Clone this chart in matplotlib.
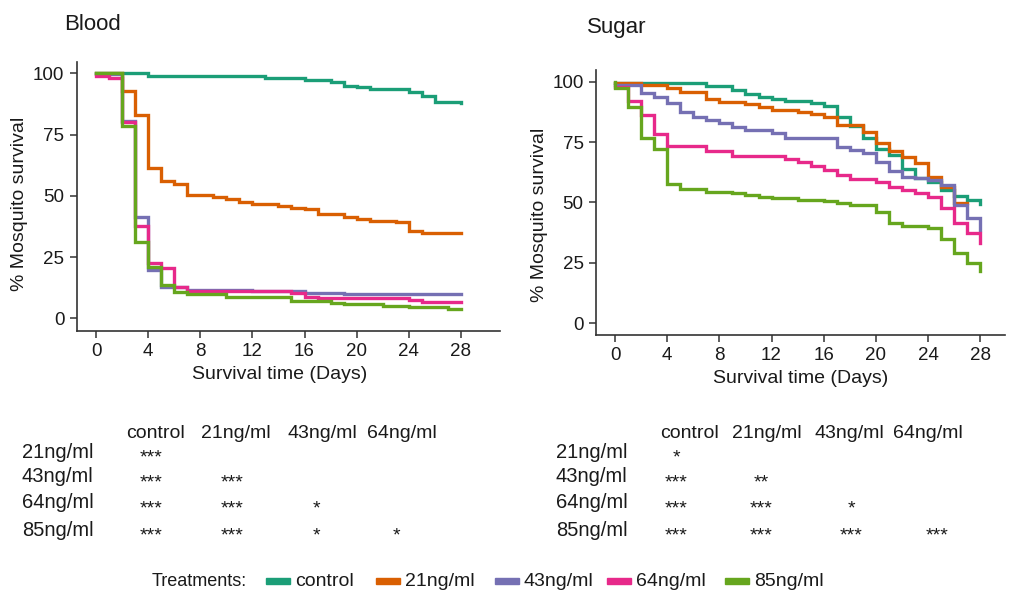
import matplotlib
matplotlib.use('Agg')
import matplotlib.pyplot as plt
from matplotlib.patches import Rectangle

plt.rcParams['font.family'] = ['Liberation Sans', 'DejaVu Sans']

W, H = 1012, 592

treatments = ['control', '21ng/ml', '43ng/ml', '64ng/ml', '85ng/ml']
colors = ['#1B9E77', '#D95F02', '#7570B3', '#E7298A', '#66A61E']

# blood fed survival (days, % survival)
blood_control_days = [0, 4, 13, 16, 18, 19, 20, 21, 24, 25, 26, 28]
blood_control_surv = [100, 98.9, 98.2, 97.3, 96.3, 95.0, 94.5, 93.6, 92.5, 90.7, 88.2, 87.8]
blood_21_days = [0, 2, 3, 4, 5, 6, 7, 9, 10, 11, 12, 14, 15, 16, 17, 19, 20, 21, 23, 24, 25, 28]
blood_21_surv = [100, 92.9, 83.0, 61.2, 56.2, 54.7, 50.3, 49.6, 48.6, 47.6, 46.7, 46.0, 45.1, 44.5,
                 42.4, 41.5, 40.7, 39.8, 39.2, 35.8, 34.9, 34.9]
blood_43_days = [0, 2, 3, 4, 5, 7, 12, 16, 19, 28]
blood_43_surv = [99.5, 80.5, 41.5, 19.7, 12.9, 11.6, 11.0, 10.5, 9.8, 9.8]
blood_64_days = [0, 1, 2, 3, 4, 5, 6, 7, 15, 16, 17, 24, 25, 28]
blood_64_surv = [98.9, 98.0, 80.0, 37.8, 22.6, 20.4, 12.9, 11.0, 10.2, 8.8, 8.2, 7.5, 6.5, 6.5]
blood_85_days = [0, 2, 3, 4, 5, 6, 7, 10, 15, 18, 19, 22, 24, 27, 28]
blood_85_surv = [100, 78.6, 31.3, 21.1, 13.6, 10.9, 9.9, 8.8, 7.2, 6.4, 5.7, 5.0, 4.5, 3.7, 3.7]

# sugar fed survival
sugar_control_days = [0, 7, 9, 10, 11, 12, 13, 15, 16, 17, 18, 19, 20, 21, 22, 23, 24, 25, 26, 27, 28]
sugar_control_surv = [99.3, 98.2, 96.5, 94.9, 93.8, 92.8, 92.1, 91.0, 89.9, 85.2, 81.5, 76.5, 72.2,
                      69.6, 63.7, 60.0, 58.6, 55.2, 52.7, 51.0, 49.5]
sugar_21_days = [0, 2, 4, 5, 7, 8, 10, 11, 12, 14, 15, 16, 17, 19, 20, 21, 22, 23, 24, 25, 26, 27]
sugar_21_surv = [99.6, 98.6, 97.2, 95.8, 92.7, 91.7, 90.6, 89.6, 88.2, 87.5, 86.5, 85.5, 82.0, 79.3,
                 74.5, 71.4, 68.9, 66.2, 60.7, 56.5, 49.6, 49.6]
sugar_43_days = [0, 2, 3, 4, 5, 6, 7, 8, 9, 10, 12, 13, 17, 18, 19, 20, 21, 22, 23, 24, 25, 26, 27, 28]
sugar_43_surv = [98.6, 95.2, 93.8, 91.0, 87.6, 85.2, 84.1, 82.7, 81.1, 80.0, 78.6, 76.8, 73.1, 71.7,
                 70.3, 66.9, 63.1, 60.7, 60.0, 59.3, 57.2, 48.9, 43.7, 38.6]
sugar_64_days = [0, 1, 2, 3, 4, 7, 9, 13, 14, 15, 16, 17, 18, 20, 21, 22, 23, 24, 25, 26, 27, 28]
sugar_64_surv = [97.9, 92.1, 86.2, 78.3, 73.5, 71.4, 69.3, 67.9, 66.6, 65.0, 63.3, 61.5, 59.7, 58.6,
                 56.3, 55.0, 53.8, 52.4, 47.6, 41.4, 37.2, 33.1]
sugar_85_days = [0, 0, 1, 2, 3, 4, 5, 7, 9, 10, 11, 12, 14, 16, 17, 18, 20, 21, 22, 24, 25, 26, 27, 28]
sugar_85_surv = [100, 97.2, 89.4, 76.8, 72.1, 57.5, 55.4, 54.5, 53.8, 53.0, 52.1, 51.7, 51.0, 50.5,
                 49.9, 48.9, 46.2, 41.6, 40.4, 39.3, 34.8, 29.0, 25.1, 21.8]

blood_series = [(blood_control_days, blood_control_surv), (blood_21_days, blood_21_surv),
                (blood_43_days, blood_43_surv), (blood_64_days, blood_64_surv),
                (blood_85_days, blood_85_surv)]
sugar_series = [(sugar_control_days, sugar_control_surv), (sugar_21_days, sugar_21_surv),
                (sugar_43_days, sugar_43_surv), (sugar_64_days, sugar_64_surv),
                (sugar_85_days, sugar_85_surv)]

# pairwise comparisons (rows vs columns)
table_cols = ['control', '21ng/ml', '43ng/ml', '64ng/ml']
table_rows = ['21ng/ml', '43ng/ml', '64ng/ml', '85ng/ml']
blood_sig = [['***'], ['***', '***'], ['***', '***', '*'], ['***', '***', '*', '*']]
sugar_sig = [['*'], ['***', '**'], ['***', '***', '*'], ['***', '***', '***', '***']]

xticks = [0, 4, 8, 12, 16, 20, 24, 28]
yticks = [0, 25, 50, 75, 100]

TXT = '#1a1a1a'
SPINE = '#333333'


def px_box(x0, y0, x1, y1):
    return [x0 / W, 1 - y1 / H, (x1 - x0) / W, (y1 - y0) / H]


def draw_panel(ax, series, xlim, ylim, ylab_xy, xlab_xy):
    for (d, s), c in zip(series, colors):
        ax.step(d, s, where='post', color=c, lw=2.4, solid_joinstyle='miter')
    ax.set_xlim(*xlim)
    ax.set_ylim(*ylim)
    ax.set_xticks(xticks)
    ax.set_yticks(yticks)
    for sp in ['top', 'right']:
        ax.spines[sp].set_visible(False)
    for sp in ['left', 'bottom']:
        ax.spines[sp].set_color(SPINE)
        ax.spines[sp].set_linewidth(1.2)
    ax.tick_params(direction='out', length=5, width=1.1, color=SPINE,
                   labelsize=13.5, labelcolor=TXT, pad=4)
    ax.set_ylabel('% Mosquito survival', fontsize=14, color=TXT)
    ax.set_xlabel('Survival time (Days)', fontsize=14, color=TXT)
    ax.yaxis.set_label_coords(*ylab_xy)
    ax.xaxis.set_label_coords(*xlab_xy)


fig = plt.figure(figsize=(W / 100, H / 100), dpi=100)

ax1 = fig.add_axes(px_box(77, 62, 500, 331))
draw_panel(ax1, blood_series, (-1.46, 31.0), (-5.2, 104.6), (-0.116, 0.472), (0.48, -0.13))

ax2 = fig.add_axes(px_box(596, 70, 1005, 335))
draw_panel(ax2, sugar_series, (-1.46, 29.9), (-4.8, 104.8), (-0.117, 0.453), (0.501, -0.132))

fig.text(64 / W, 1 - 25 / H, 'Blood', fontsize=16, color=TXT, va='center')
fig.text(587 / W, 1 - 27 / H, 'Sugar', fontsize=16, color=TXT, va='center')


def draw_table(label_x, col_x, star_x, sig):
    for name, x in zip(table_cols, col_x):
        fig.text(x / W, 1 - 433 / H, name, fontsize=14, color=TXT, ha='center', va='center')
    for i, (name, y) in enumerate(zip(table_rows, [452, 477, 503, 530])):
        fig.text(label_x / W, 1 - y / H, name, fontsize=14.5, color=TXT, va='center')
        for j, s in enumerate(sig[i]):
            fig.text(star_x[j] / W, 1 - (y + 6) / H, s, fontsize=14, color=TXT,
                     ha='center', va='center')


draw_table(22, [156, 236, 322, 402], [151, 232, 316, 396], blood_sig)
draw_table(556, [690, 767, 849, 928], [676, 761, 851, 937], sugar_sig)

# legend
fig.text(152 / W, 1 - 582 / H, 'Treatments:', fontsize=13, color=TXT, va='center')
patch_x = [266, 376, 495, 607, 725]
for name, c, x in zip(treatments, colors, patch_x):
    fig.add_artist(Rectangle((x / W, 1 - 584 / H), 24 / W, 6 / H, color=c,
                             transform=fig.transFigure))
    fig.text((x + 29) / W, 1 - 581 / H, name, fontsize=14, color=TXT, va='center')

fig.savefig('out.png', dpi=100)
